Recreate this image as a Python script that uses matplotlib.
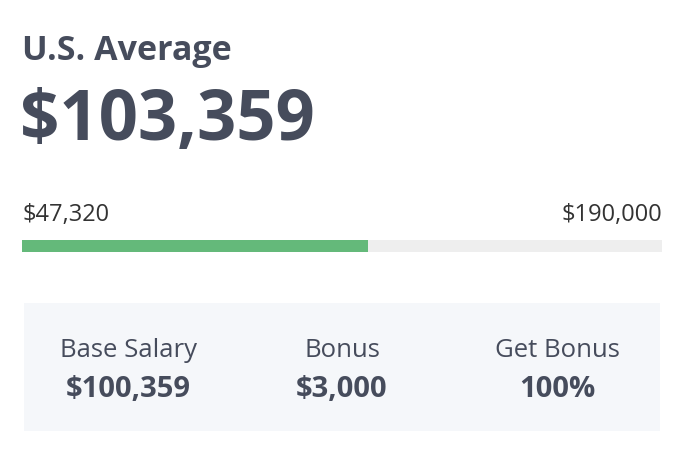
import matplotlib.pyplot as plt
from matplotlib.patches import Rectangle

plt.rcParams['font.family'] = ['Open Sans', 'DejaVu Sans']

# data
title = "U.S. Average"
average = "$103,359"
range_labels = ["$47,320", "$190,000"]
fill_pct = 54  # share of the range bar drawn in green
stat_names = ["Base Salary", "Bonus", "Get Bonus"]
stat_values = ["$100,359", "$3,000", "100%"]

dark = "#464c5c"

fig = plt.figure(figsize=(6.84, 4.52), dpi=100)
ax = fig.add_axes([0, 0, 1, 1])
ax.set_xlim(0, 684)
ax.set_ylim(452, 0)
ax.axis("off")

ax.text(22, 51, title, fontsize=24.5, fontweight="bold", color=dark, va="center")
ax.text(20, 122, average, fontsize=49.5, fontweight="bold", color=dark, va="center")

ax.text(22, 215, range_labels[0], fontsize=17, color="#333333", va="center")
ax.text(662, 215, range_labels[1], fontsize=17, color="#333333", va="center", ha="right")

# range bar
bar_x, bar_w = 22, 640
ax.barh(247, bar_w, height=12, left=bar_x, color="#eeeeee")
ax.barh(247, bar_w * fill_pct / 100, height=12, left=bar_x, color="#64b97a")

# summary panel
ax.add_patch(Rectangle((24, 304), 636, 128, color="#f5f7fa", lw=0))
centers = [128, 342, 557]
for cx, name, val in zip(centers, stat_names, stat_values):
    ax.text(cx, 351, name, fontsize=18.5, color=dark, ha="center", va="center")
    ax.text(cx, 390, val, fontsize=21, fontweight="bold", color=dark, ha="center", va="center")

fig.savefig("out.png", dpi=100)
